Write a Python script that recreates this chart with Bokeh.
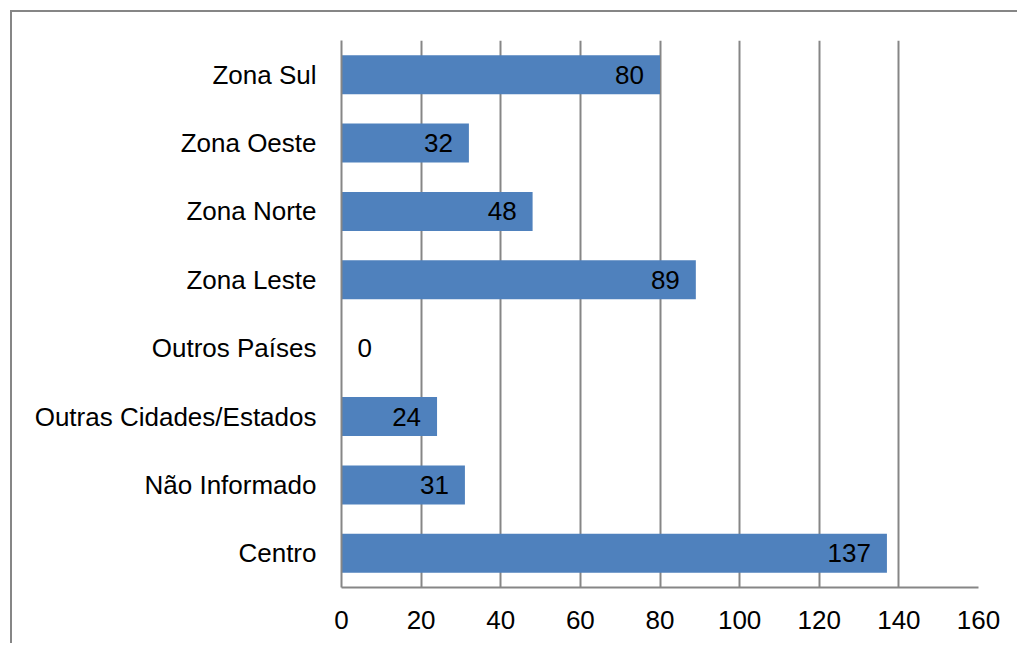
from bokeh.plotting import figure
from bokeh.models import ColumnDataSource, FactorRange, FixedTicker, Range1d
from bokeh.core.properties import value
from bokeh.embed import file_html
from bokeh.resources import INLINE

categories = ["Centro", "Não Informado", "Outras Cidades/Estados", "Outros Países",
              "Zona Leste", "Zona Norte", "Zona Oeste", "Zona Sul"]
counts = [137, 31, 24, 0, 89, 48, 32, 80]
x_ticks = [0, 20, 40, 60, 80, 100, 120, 140, 160]

FONT = "Liberation Sans"
GRAY = "#868686"
BLUE = "#4F81BD"

src = ColumnDataSource(dict(
    cat=categories,
    val=counts,
    txt=[str(v) for v in counts],
    align=["right" if v > 0 else "left" for v in counts],
    off=[-16 if v > 0 else 16 for v in counts],
))

p = figure(width=1007, height=633, output_backend="svg", toolbar_location=None,
           y_range=FactorRange(factors=categories, range_padding=0),
           x_range=Range1d(0, 160),
           min_border_left=329, min_border_right=41, min_border_top=28, min_border_bottom=58)
p.styles = {"border-top": "2px solid " + GRAY, "border-left": "2px solid " + GRAY,
            "margin": "10px 0 0 10px"}

p.hbar(y="cat", right="val", left=0, height=0.57, source=src, fill_color=BLUE, line_color=None)
p.text(x="val", y="cat", text="txt", source=src, text_align="align", x_offset="off",
       text_baseline="middle", text_font=value(FONT), text_font_size="26px", text_color="black")

p.outline_line_color = None
p.background_fill_color = "white"
p.border_fill_color = "white"

p.ygrid.grid_line_color = None
p.xgrid.grid_line_color = GRAY
p.xgrid.grid_line_width = 2
p.xaxis.ticker = FixedTicker(ticks=x_ticks)

for ax in (p.xaxis[0], p.yaxis[0]):
    ax.axis_line_color = GRAY
    ax.axis_line_width = 2
    ax.major_tick_line_color = None
    ax.minor_tick_line_color = None
    ax.major_label_text_font = FONT
    ax.major_label_text_font_size = "26px"
    ax.major_label_text_color = "black"

p.xaxis.major_label_standoff = 17
p.yaxis.major_label_standoff = 19

open("out.html", "w").write(file_html(p, INLINE))
